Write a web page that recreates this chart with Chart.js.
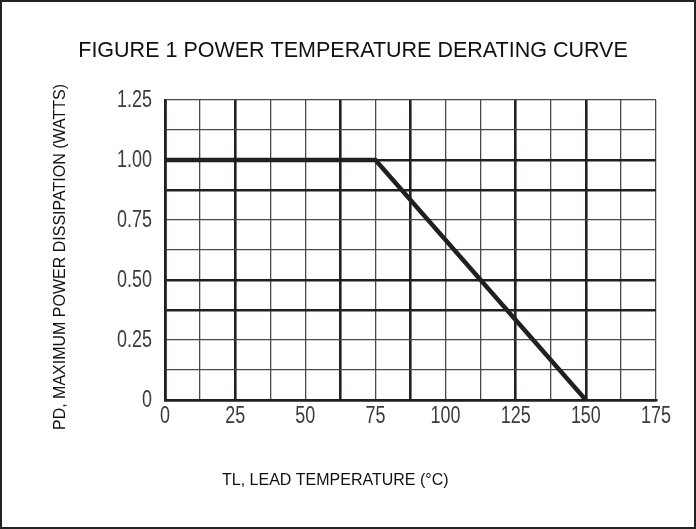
<!DOCTYPE html>
<html>
<head>
<meta charset="utf-8">
<script src="https://cdn.jsdelivr.net/npm/chart.js@4.4.1/dist/chart.umd.min.js"></script>
<style>
    html, body { margin: 0; padding: 0; background: #fff; }
    #wrap { width: 696px; height: 529px; position: relative; }
</style>
</head>
<body>
<div id="wrap"><canvas id="derating" width="696" height="529"></canvas></div>
<script>
// ------------------------------------------------------------
// Figure 1 - power temperature derating curve
// ------------------------------------------------------------
const leadTemps = [0, 75, 150];          // TL, deg C
const powerWatts = [1.0, 1.0, 0];        // PD, W
const xTickLabels = ['0', '', '25', '', '50', '', '75', '', '100', '', '125', '', '150', '', '175'];
const yTickLabels = ['0', '', '0.25', '', '0.50', '', '0.75', '', '1.00', '', '1.25'];

const titleText = 'FIGURE 1 POWER TEMPERATURE DERATING CURVE';
const xTitle = 'TL, LEAD TEMPERATURE (\u00B0C)';
const yTitle = 'PD, MAXIMUM POWER DISSIPATION (WATTS)';

// grid styling (heavier lines as in the printed sheet)
const INK = '#231f20';
const heavyX = [0, 2, 5, 7, 10, 12];
const heavyY = [0, 3, 4, 7, 8];
const gridWidth = (heavy) => (ctx) => heavy.includes(ctx.index) ? 2.6 : 1.3;
const gridColor = (heavy) => (ctx) => heavy.includes(ctx.index) ? INK : '#4a4a4a';

const SANS = 'Arial, "Liberation Sans", sans-serif';
const TICK_FONT = '23px ' + SANS;
const SQUEEZE = 0.78;   // tick numerals are a condensed face in the original

// draws a narrowed text string centred/right-aligned at (x, y)
function squeezedText(c, txt, x, y, align) {
    const w = c.measureText(txt).width * SQUEEZE;
    const left = align === 'right' ? x - w : x - w / 2;
    c.save();
    c.translate(left, y);
    c.scale(SQUEEZE, 1);
    c.textAlign = 'left';
    c.fillText(txt, 0, 0);
    c.restore();
}

const labelPlugin = {
    id: 'labels',
    afterDraw(chart) {
        const c = chart.ctx;
        const { x, y } = chart.scales;
        const area = chart.chartArea;
        c.save();

        // outer frame
        c.strokeStyle = '#222';
        c.lineWidth = 2;
        c.strokeRect(1, 1, chart.width - 2, chart.height - 2);

        // tick numerals from the scales
        c.fillStyle = '#3a3a3a';
        c.font = TICK_FONT;
        c.textBaseline = 'middle';
        y.ticks.forEach((t, i) => {
            if (yTickLabels[i]) squeezedText(c, yTickLabels[i], area.left - 13, y.getPixelForValue(t.value) + 1, 'right');
        });
        c.textBaseline = 'top';
        x.ticks.forEach((t, i) => {
            if (xTickLabels[i]) squeezedText(c, xTickLabels[i], x.getPixelForValue(t.value), area.bottom + 5, 'center');
        });

        // titles
        c.fillStyle = '#111';
        c.textBaseline = 'middle';
        c.textAlign = 'center';
        c.font = '21.5px ' + SANS;
        c.fillText(titleText, 353, 51);

        c.font = '16px ' + SANS;
        c.textAlign = 'left';
        c.fillText(xTitle, 222, 481);

        c.translate(61, 257);
        c.rotate(-Math.PI / 2);
        c.textAlign = 'center';
        c.font = '16px ' + SANS;
        c.fillText(yTitle, 0, 0);
        c.restore();
    }
};

new Chart(document.getElementById('derating'), {
    type: 'line',
    data: {
        datasets: [{
            label: 'PD',
            data: leadTemps.map((t, i) => ({ x: t, y: powerWatts[i] })),
            borderColor: INK,
            borderWidth: 4.5,
            tension: 0,
            pointRadius: 0,
            fill: false
        }]
    },
    options: {
        responsive: false,
        animation: false,
        layout: { padding: { left: 165, right: 40, top: 100, bottom: 129 } },
        plugins: {
            legend: { display: false },
            tooltip: { enabled: false }
        },
        scales: {
            x: {
                type: 'linear',
                min: 0,
                max: 175,
                afterBuildTicks: (s) => {
                    s.ticks = xTickLabels.map((_, i) => ({ value: i * 12.5 }));
                },
                ticks: { display: false },
                grid: { lineWidth: gridWidth(heavyX), color: gridColor(heavyX), drawTicks: false },
                border: { display: true, color: INK, width: 2.6 }
            },
            y: {
                type: 'linear',
                min: 0,
                max: 1.25,
                afterBuildTicks: (s) => {
                    s.ticks = yTickLabels.map((_, i) => ({ value: i * 0.125 }));
                },
                ticks: { display: false },
                grid: { lineWidth: gridWidth(heavyY), color: gridColor(heavyY), drawTicks: false },
                border: { display: true, color: INK, width: 2.6 }
            }
        }
    },
    plugins: [labelPlugin]
});
</script>
</body>
</html>
